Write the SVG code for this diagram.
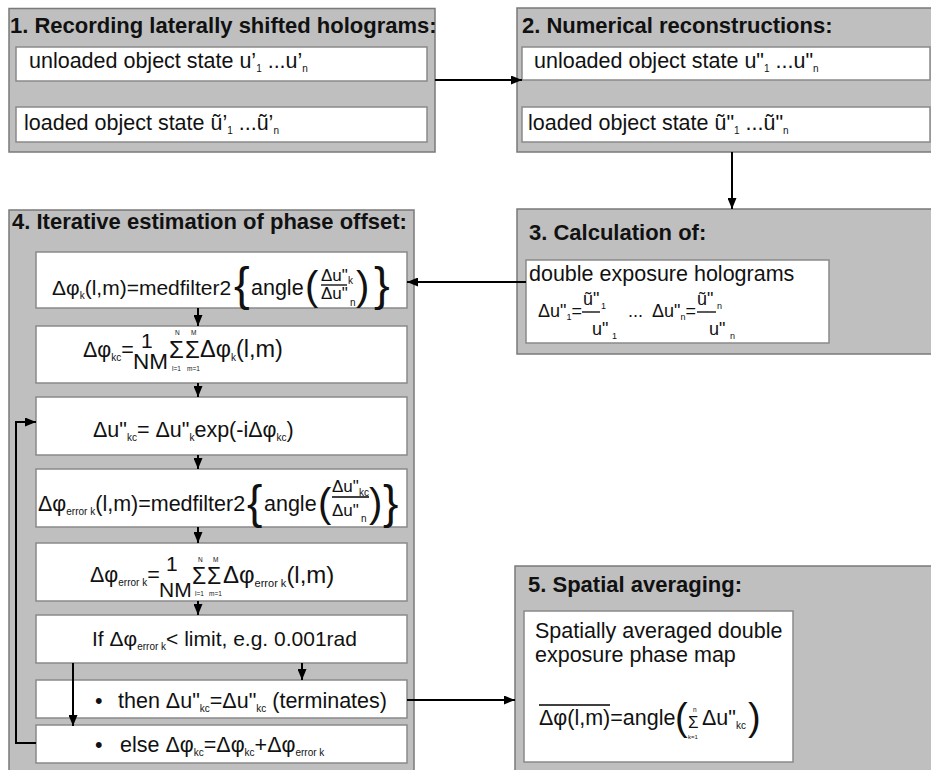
<svg xmlns="http://www.w3.org/2000/svg" width="931" height="770" viewBox="0 0 931 770">
<defs>
<marker id="ah" markerWidth="11" markerHeight="9" refX="11" refY="4.5" orient="auto" markerUnits="userSpaceOnUse"><path d="M0,0 L11,4.5 L0,9 z" fill="#000"/></marker>
<style>
.outer{fill:#bfbfbf;stroke:#7a7a7a;stroke-width:1.5}
.inner{fill:#fff;stroke:#8a8a8a;stroke-width:1.5}
text{font-family:"Liberation Sans",Arial,sans-serif;fill:#111}
.h{font-size:22px;font-weight:bold}
.t{font-size:21.5px}
.f{font-size:21.5px}
.s{font-size:10px}
.s2{font-size:9px}
.m{font-size:18px}
.fr{font-size:17px}
.tiny{font-size:6.5px}
.c{fill:none;stroke:#000;stroke-width:2}
.ln{stroke:#000;stroke-width:1.3}
</style>
</defs>
<rect width="931" height="770" fill="#fff"/>

<g id="node1">
<rect class="outer" x="9" y="8.5" width="426" height="143.5"/>
<text class="h" x="10" y="33" font-size="21.8px">1. Recording laterally shifted holograms:</text>
<rect class="inner" x="16" y="47" width="411" height="34"/>
<text class="t" x="29" y="68">unloaded object state u’<tspan class="s" dy="4">1</tspan><tspan dy="-4"> ...u’</tspan><tspan class="s" dy="4">n</tspan></text>
<rect class="inner" x="16" y="107" width="411" height="35"/>
<text class="t" x="24" y="130">loaded object state ũ’<tspan class="s" dy="4">1</tspan><tspan dy="-4"> ...ũ’</tspan><tspan class="s" dy="4">n</tspan></text>
</g>

<g id="node2">
<rect class="outer" x="517" y="8" width="420" height="144"/>
<text class="h" x="522" y="33">2. Numerical reconstructions:</text>
<rect class="inner" x="522" y="47" width="408" height="33"/>
<text class="t" x="534" y="68">unloaded object state u"<tspan class="s" dy="4">1</tspan><tspan dy="-4"> ...u"</tspan><tspan class="s" dy="4">n</tspan></text>
<rect class="inner" x="522" y="107" width="408" height="35"/>
<text class="t" x="528" y="130">loaded object state ũ"<tspan class="s" dy="4">1</tspan><tspan dy="-4"> ...ũ"</tspan><tspan class="s" dy="4">n</tspan></text>
</g>

<g id="node3">
<rect class="outer" x="517" y="209" width="420" height="145"/>
<text class="h" x="529" y="240">3. Calculation of:</text>
<rect class="inner" x="526" y="260" width="303" height="83"/>
<text class="t" x="529" y="281">double exposure holograms</text>
<text class="m" x="538" y="317">Δu"<tspan class="s2" dy="3">1</tspan><tspan dy="-3">=</tspan></text>
<text class="m" x="583" y="305">ũ"</text>
<text class="s2" x="601" y="309">1</text>
<line class="ln" x1="582" y1="312" x2="600" y2="312"/>
<text class="m" x="592" y="335">u"</text>
<text class="s2" x="612" y="339">1</text>
<text class="m" x="628" y="317">...</text>
<text class="m" x="652" y="317">Δu"<tspan class="s2" dy="3">n</tspan><tspan dy="-3">=</tspan></text>
<text class="m" x="697" y="305">ũ"</text>
<text class="s2" x="717" y="309">n</text>
<line class="ln" x1="697" y1="312" x2="716" y2="312"/>
<text class="m" x="709" y="335">u"</text>
<text class="s2" x="730" y="339">n</text>
</g>

<g id="node4">
<rect class="outer" x="9" y="210" width="405" height="570"/>
<text class="h" x="12" y="229" font-size="22.7px">4. Iterative estimation of phase offset:</text>

<g id="node4a">
<rect class="inner" x="36" y="252" width="371" height="56"/>
<text x="52" y="295" font-size="21px">Δφ<tspan class="s" dy="4">k</tspan><tspan dy="-4">(l,m)=medfilter2</tspan></text>
<text x="234" y="300" font-size="47px">{</text>
<text class="f" x="251" y="295">angle</text>
<text x="305" y="300" font-size="40px">(</text>
<text class="fr" x="321" y="281">Δu"</text>
<text class="s" x="348" y="284">k</text>
<line class="ln" x1="321" y1="285" x2="347" y2="285"/>
<text class="fr" x="321" y="299">Δu"</text>
<text class="s" x="350" y="306">n</text>
<text x="356" y="300" font-size="40px">)</text>
<text x="374" y="300" font-size="47px">}</text>
</g>

<g id="node4b">
<rect class="inner" x="36" y="326" width="371" height="57"/>
<text class="f" x="83" y="357">Δφ<tspan class="s" dy="4">kc</tspan><tspan dy="-4">=</tspan></text>
<text x="141" y="348" font-size="21px">1</text>
<text x="133" y="369" font-size="22.5px">NM</text>
<text x="169" y="358" font-size="24px">Σ</text>
<text class="tiny" x="175" y="335">N</text>
<text class="tiny" x="172" y="371">l=1</text>
<text x="185" y="358" font-size="24px">Σ</text>
<text class="tiny" x="191" y="335">M</text>
<text class="tiny" x="187" y="371">m=1</text>
<text x="200" y="357" font-size="23.5px">Δφ<tspan class="s" dy="4">k</tspan><tspan dy="-4">(l,m)</tspan></text>
</g>

<g id="node4c">
<rect class="inner" x="36" y="397" width="371" height="58"/>
<text class="f" x="93" y="437">Δu"<tspan class="s" dy="4">kc</tspan><tspan dy="-4">= Δu"</tspan><tspan class="s" dy="4">k</tspan><tspan dy="-4">exp(-iΔφ</tspan><tspan class="s" dy="4">kc</tspan><tspan dy="-4">)</tspan></text>
</g>

<g id="node4d">
<rect class="inner" x="36" y="469" width="371" height="58"/>
<text class="f" x="38" y="511">Δφ<tspan class="s" dy="4">error k</tspan><tspan dy="-4">(l,m)=medfilter2</tspan></text>
<text x="247" y="518" font-size="46px">{</text>
<text class="f" x="264" y="511">angle</text>
<text x="318" y="517" font-size="40px">(</text>
<text class="fr" x="332" y="492">Δu"</text>
<text class="s" x="359" y="496">kc</text>
<line class="ln" x1="332" y1="497" x2="369" y2="497"/>
<text class="fr" x="332" y="516">Δu"</text>
<text class="s" x="361" y="522">n</text>
<text x="369" y="517" font-size="40px">)</text>
<text x="383" y="518" font-size="46px">}</text>
</g>

<g id="node4e">
<rect class="inner" x="36" y="543" width="371" height="58"/>
<text class="f" x="90" y="582">Δφ<tspan class="s" dy="4">error k</tspan><tspan dy="-4">=</tspan></text>
<text x="166" y="571" font-size="21px">1</text>
<text x="159" y="597" font-size="21px">NM</text>
<text x="192" y="584" font-size="23px">Σ</text>
<text class="tiny" x="198" y="562">N</text>
<text class="tiny" x="195" y="596">l=1</text>
<text x="207" y="584" font-size="23px">Σ</text>
<text class="tiny" x="213" y="562">M</text>
<text class="tiny" x="209" y="596">m=1</text>
<text x="223" y="583" font-size="24px">Δφ<tspan font-size="11px" dy="4">error k</tspan><tspan dy="-4">(l,m)</tspan></text>
</g>

<g id="node4f">
<rect class="inner" x="36" y="615" width="371" height="48"/>
<text x="92" y="646" font-size="21px">If Δφ<tspan class="s" dy="4">error k</tspan><tspan dy="-4">&lt; limit, e.g. 0.001rad</tspan></text>
</g>

<g id="node4g">
<rect class="inner" x="36" y="680" width="371" height="38"/>
<text class="f" x="95" y="708">•</text>
<text class="f" x="118" y="708">then Δu"<tspan class="s" dy="4">kc</tspan><tspan dy="-4">=Δu"</tspan><tspan class="s" dy="4">kc</tspan><tspan dy="-4"> (terminates)</tspan></text>
</g>

<g id="node4h">
<rect class="inner" x="36" y="725" width="371" height="38"/>
<text class="f" x="95" y="752">•</text>
<text class="f" x="120" y="752">else Δφ<tspan class="s" dy="4">kc</tspan><tspan dy="-4">=Δφ</tspan><tspan class="s" dy="4">kc</tspan><tspan dy="-4">+Δφ</tspan><tspan class="s" dy="4">error k</tspan></text>
</g>
</g>

<g id="node5">
<rect class="outer" x="515" y="566" width="420" height="214"/>
<text class="h" x="528" y="592" font-size="21.5px">5. Spatial averaging:</text>
<rect class="inner" x="524" y="611" width="269" height="151"/>
<text class="t" x="535" y="638">Spatially averaged double</text>
<text class="t" x="535" y="662">exposure phase map</text>
<line class="ln" x1="539" y1="705" x2="610" y2="705"/>
<text class="f" x="539" y="725">Δφ(l,m)=angle</text>
<text x="675" y="730" font-size="38px">(</text>
<text x="688" y="728" font-size="17px">Σ</text>
<text class="tiny" x="693" y="712">n</text>
<text x="688" y="739" font-size="6px">k=1</text>
<text class="f" x="702" y="725">Δu"<tspan class="s" dy="4">kc</tspan></text>
<text x="748" y="730" font-size="38px">)</text>
</g>

<g id="connectors">
<line class="c" x1="435" y1="80" x2="522" y2="80" marker-end="url(#ah)"/>
<line class="c" x1="732" y1="152" x2="732" y2="209" marker-end="url(#ah)"/>
<line class="c" x1="526" y1="282" x2="407" y2="282" marker-end="url(#ah)"/>
<line class="c" x1="198" y1="308" x2="198" y2="326" marker-end="url(#ah)"/>
<line class="c" x1="198" y1="383" x2="198" y2="397" marker-end="url(#ah)"/>
<line class="c" x1="198" y1="455" x2="198" y2="469" marker-end="url(#ah)"/>
<line class="c" x1="198" y1="527" x2="198" y2="543" marker-end="url(#ah)"/>
<line class="c" x1="198" y1="601" x2="198" y2="615" marker-end="url(#ah)"/>
<line class="c" x1="302" y1="663" x2="302" y2="680" marker-end="url(#ah)"/>
<line class="c" x1="73" y1="663" x2="73" y2="726" marker-end="url(#ah)"/>
<polyline class="c" points="36,743 16,743 16,422 36,422" marker-end="url(#ah)"/>
<line class="c" x1="407" y1="700" x2="515" y2="700" marker-end="url(#ah)"/>
</g>
</svg>
